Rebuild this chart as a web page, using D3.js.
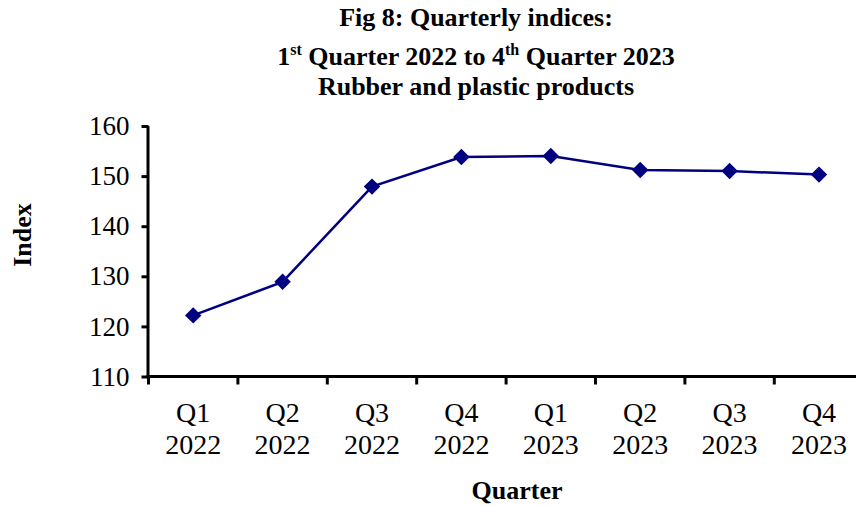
<!DOCTYPE html>
<html>
<head>
<meta charset="utf-8">
<script src="https://cdn.jsdelivr.net/npm/d3@7"></script>
<style>
  body { margin: 0; background: #fff; }
  text { font-family: "Liberation Serif", "Times New Roman", serif; fill: #000; }
</style>
</head>
<body>
<div id="chart"></div>
<script>
// Quarter labels (two lines each) and index values
const quarters = ["Q1", "Q2", "Q3", "Q4", "Q1", "Q2", "Q3", "Q4"];
const years = ["2022", "2022", "2022", "2022", "2023", "2023", "2023", "2023"];
const values = [122.2, 128.9, 147.9, 153.8, 154.0, 151.2, 151.0, 150.3];
const yTicks = [110, 120, 130, 140, 150, 160];

const W = 856, H = 506;
const keys = quarters.map((q, i) => q + " " + years[i]);

const svg = d3.select("#chart").append("svg")
  .attr("width", W).attr("height", H);

// scales
let x = d3.scaleBand().domain(keys).range([148.5, 148.5 + 8 * 89.4]);
let y = d3.scaleLinear().domain([110, 160]).range([376.5, 126]);

// title
const title = svg.append("text")
  .attr("text-anchor", "middle")
  .attr("font-weight", "bold")
  .attr("font-size", "26px");
title.append("tspan").attr("x", 476).attr("y", 26).text("Fig 8: Quarterly indices:");
let l2 = title.append("tspan").attr("x", 476).attr("y", 65);
l2.append("tspan").text("1");
l2.append("tspan").attr("font-size", "16px").attr("dy", -10).text("st");
l2.append("tspan").attr("dy", 10).text(" Quarter 2022 to 4");
l2.append("tspan").attr("font-size", "16px").attr("dy", -10).text("th");
l2.append("tspan").attr("dy", 10).text(" Quarter 2023");
title.append("tspan").attr("x", 476).attr("y", 95).text("Rubber and plastic products");

// y axis
let yAxis = svg.append("g")
  .attr("transform", `translate(${x.range()[0]},0)`)
  .call(d3.axisLeft(y).tickValues(yTicks).tickSize(7).tickPadding(12));
yAxis.select(".domain").attr("stroke", "#000").attr("stroke-width", 3)
  .attr("d", `M-0.5,${y(110)}V${y(160)}`);
yAxis.selectAll(".tick line").attr("stroke", "#000").attr("stroke-width", 3);
yAxis.selectAll(".tick text")
  .style("font-family", '"Liberation Serif", serif')
  .attr("font-size", "27px").attr("fill", "#000");

// x axis: line plus ticks on category boundaries
const step = x.step();
let xAxis = svg.append("g").attr("transform", `translate(0,${y(110)})`);
xAxis.append("line")
  .attr("x1", x.range()[0] - 2).attr("x2", W)
  .attr("stroke", "#000").attr("stroke-width", 3);
xAxis.selectAll("line.tick").data(keys).enter().append("line")
  .attr("class", "tick")
  .attr("x1", d => x(d)).attr("x2", d => x(d))
  .attr("y1", 0).attr("y2", 8)
  .attr("stroke", "#000").attr("stroke-width", 3);

let xl = xAxis.selectAll("text.lbl").data(keys).enter().append("text")
  .attr("class", "lbl")
  .attr("text-anchor", "middle")
  .attr("font-size", "28px");
xl.append("tspan")
  .attr("x", d => x(d) + step / 2).attr("y", 45)
  .text((d, i) => quarters[i]);
xl.append("tspan")
  .attr("x", d => x(d) + step / 2).attr("y", 77)
  .text((d, i) => years[i]);

// axis titles
svg.append("text")
  .attr("x", 517).attr("y", 499)
  .attr("text-anchor", "middle")
  .attr("font-weight", "bold").attr("font-size", "26px")
  .text("Quarter");
svg.append("text")
  .attr("transform", "translate(31,235) rotate(-90)")
  .attr("text-anchor", "middle")
  .attr("font-weight", "bold").attr("font-size", "26px")
  .text("Index");

// line and markers
const cx = (d, i) => x(keys[i]) + step / 2;
let line = d3.line().x(cx).y(d => y(d));
svg.append("path")
  .datum(values)
  .attr("fill", "none")
  .attr("stroke", "#000080")
  .attr("stroke-width", 2.5)
  .attr("d", line);

let sym = d3.symbol().type(d3.symbolSquare).size(135);
svg.selectAll("path.pt").data(values).enter().append("path")
  .attr("class", "pt")
  .attr("d", sym)
  .attr("fill", "#000080")
  .attr("transform", (d, i) => `translate(${cx(d, i)},${y(d)}) rotate(45)`);
</script>
</body>
</html>
